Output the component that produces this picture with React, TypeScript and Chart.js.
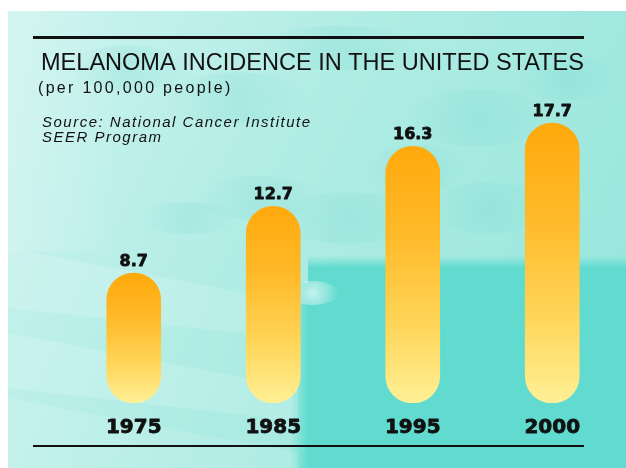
import React, { useEffect, useRef } from "react";
import { Chart, registerables } from "chart.js";

Chart.register(...registerables);

const years = ["1975", "1985", "1995", "2000"];
const incidence = [8.7, 12.7, 16.3, 17.7];
const valueLabels = ["8.7", "12.7", "16.3", "17.7"];
const titleText = "MELANOMA INCIDENCE IN THE UNITED STATES";
const subtitleText = "(per 100,000 people)";
const sourceLines = ["Source: National Cancer Institute", "SEER Program"];

const W = 618;
const H = 460;

const backgroundPlugin = {
  id: "bgPaint",
  beforeDraw(chart: any) {
    const ctx = chart.ctx as CanvasRenderingContext2D;
    ctx.save();
    const g = ctx.createLinearGradient(0, 0, W, H * 0.7);
    g.addColorStop(0, "#CDF3EF");
    g.addColorStop(0.5, "#AEECE4");
    g.addColorStop(1, "#98E6DC");
    ctx.fillStyle = g;
    ctx.fillRect(0, 3, W, H - 3);
    const lb = ctx.createLinearGradient(0, 0, 110, 0);
    lb.addColorStop(0, "rgba(215,246,242,0.6)");
    lb.addColorStop(1, "rgba(215,246,242,0)");
    ctx.fillStyle = lb;
    ctx.fillRect(0, 3, 110, 240);
    const blots = [
      [120, 60, 60, 14], [230, 90, 70, 16], [330, 40, 80, 14], [470, 110, 70, 18],
      [560, 70, 50, 14], [250, 190, 60, 14], [340, 210, 70, 16], [480, 200, 60, 16],
      [180, 210, 50, 10], [410, 160, 50, 14],
    ];
    for (const [x, y, rx, ry] of blots) {
      const rg = ctx.createRadialGradient(x, y, 0, x, y, rx);
      rg.addColorStop(0, "rgba(110,212,204,0.22)");
      rg.addColorStop(1, "rgba(110,212,204,0)");
      ctx.fillStyle = rg;
      ctx.beginPath();
      ctx.ellipse(x, y, rx, ry * 1.6, 0, 0, Math.PI * 2);
      ctx.fill();
    }
    const bb = ctx.createLinearGradient(0, 248, 0, 260);
    bb.addColorStop(0, "rgba(96,219,207,0)");
    bb.addColorStop(1, "rgba(96,219,207,1)");
    ctx.fillStyle = bb;
    ctx.fillRect(300, 248, W - 300, 12);
    ctx.fillStyle = "#61DBCF";
    ctx.fillRect(300, 260, W - 300, H - 260);
    const lbEdge = ctx.createLinearGradient(282, 0, 300, 0);
    lbEdge.addColorStop(0, "rgba(96,219,207,0)");
    lbEdge.addColorStop(1, "rgba(96,219,207,1)");
    ctx.fillStyle = lbEdge;
    ctx.fillRect(282, 275, 18, H - 275);
    const streaks = [
      [240, 60, 0.28],
      [325, 55, 0.28],
      [390, 80, 0.22],
    ];
    for (const [y0, h, a] of streaks) {
      const sg = ctx.createLinearGradient(0, 0, 290, 0);
      sg.addColorStop(0, `rgba(228,249,246,${a})`);
      sg.addColorStop(1, `rgba(228,249,246,${a * 0.6})`);
      ctx.fillStyle = sg;
      ctx.beginPath();
      ctx.moveTo(0, y0);
      ctx.lineTo(290, y0 + 55);
      ctx.lineTo(290, y0 + 55 + h * 0.6);
      ctx.lineTo(0, y0 + h);
      ctx.closePath();
      ctx.fill();
    }
    const cg = ctx.createRadialGradient(305, 285, 0, 305, 285, 26);
    cg.addColorStop(0, "rgba(215,246,243,0.85)");
    cg.addColorStop(1, "rgba(215,246,243,0)");
    ctx.fillStyle = cg;
    ctx.beginPath();
    ctx.ellipse(305, 285, 26, 12, 0, 0, Math.PI * 2);
    ctx.fill();
    ctx.restore();
  },
};

const textPlugin = {
  id: "textPaint",
  afterDatasetsDraw(chart: any) {
    const ctx = chart.ctx as any;
    const xs = chart.scales.x;
    const meta = chart.getDatasetMeta(0);
    ctx.save();
    ctx.fillStyle = "#111111";
    ctx.strokeStyle = "#111111";
    ctx.fillRect(25, 28, 551, 3);
    ctx.fillRect(25, 437, 551, 2);
    ctx.textAlign = "left";
    ctx.textBaseline = "alphabetic";
    ctx.letterSpacing = "0px";
    ctx.font = "24px 'Liberation Sans', Arial, sans-serif";
    ctx.fillText(titleText, 33, 62, 543);
    ctx.letterSpacing = "2.3px";
    ctx.font = "16px 'Liberation Sans', Arial, sans-serif";
    ctx.fillText(subtitleText, 30, 85);
    ctx.letterSpacing = "1.5px";
    ctx.font = "italic 15px 'Liberation Sans', Arial, sans-serif";
    ctx.fillText(sourceLines[0], 34, 119);
    ctx.fillText(sourceLines[1], 34, 134);
    ctx.letterSpacing = "0px";
    ctx.textAlign = "center";
    ctx.lineWidth = 0.8;
    ctx.lineJoin = "round";
    ctx.font = "bold 16px 'DejaVu Sans', sans-serif";
    meta.data.forEach((bar: any, i: number) => {
      ctx.fillText(valueLabels[i], bar.x, bar.y - 7);
      ctx.strokeText(valueLabels[i], bar.x, bar.y - 7);
    });
    ctx.font = "bold 20px 'DejaVu Sans', sans-serif";
    years.forEach((yr, i) => {
      const x = xs.getPixelForValue(i);
      ctx.fillText(yr, x, 425);
      ctx.strokeText(yr, x, 425);
    });
    ctx.restore();
  },
};

export default function App() {
  const ref = useRef<HTMLCanvasElement | null>(null);
  useEffect(() => {
    if (!ref.current) return;
    const chart = new Chart(ref.current, {
      type: "bar",
      data: {
        labels: years,
        datasets: [
          {
            data: incidence,
            base: 0.9,
            barThickness: 54,
            borderRadius: 100,
            borderSkipped: false,
            backgroundColor: (c: any) => {
              const ch = c.chart;
              if (!ch.chartArea || c.type !== "data") return "#FFC040";
              const ys = ch.scales.y;
              const top = ys.getPixelForValue(c.raw);
              const bottom = ys.getPixelForValue(ys.min);
              const g = ch.ctx.createLinearGradient(0, top, 0, bottom);
              g.addColorStop(0, "#FFA90C");
              g.addColorStop(0.35, "#FFBA2A");
              g.addColorStop(0.7, "#FFD65A");
              g.addColorStop(1, "#FFF096");
              return g;
            },
          },
        ],
      },
      options: {
        animation: false,
        responsive: false,
        maintainAspectRatio: false,
        devicePixelRatio: 1,
        layout: { padding: { left: 56, right: 4, top: 100, bottom: 65 } },
        plugins: {
          legend: { display: false },
          tooltip: { enabled: false },
          title: { display: false },
        },
        scales: {
          x: { display: false, offset: true },
          y: { display: false, min: 0.9, max: 18.6 },
        },
      },
      plugins: [backgroundPlugin, textPlugin],
    });
    return () => chart.destroy();
  }, []);
  return (
    <div style={{ position: "fixed", left: 8, top: 8, width: W, height: H }}>
      <canvas ref={ref} width={W} height={H} style={{ width: W, height: H, display: "block" }} />
    </div>
  );
}
